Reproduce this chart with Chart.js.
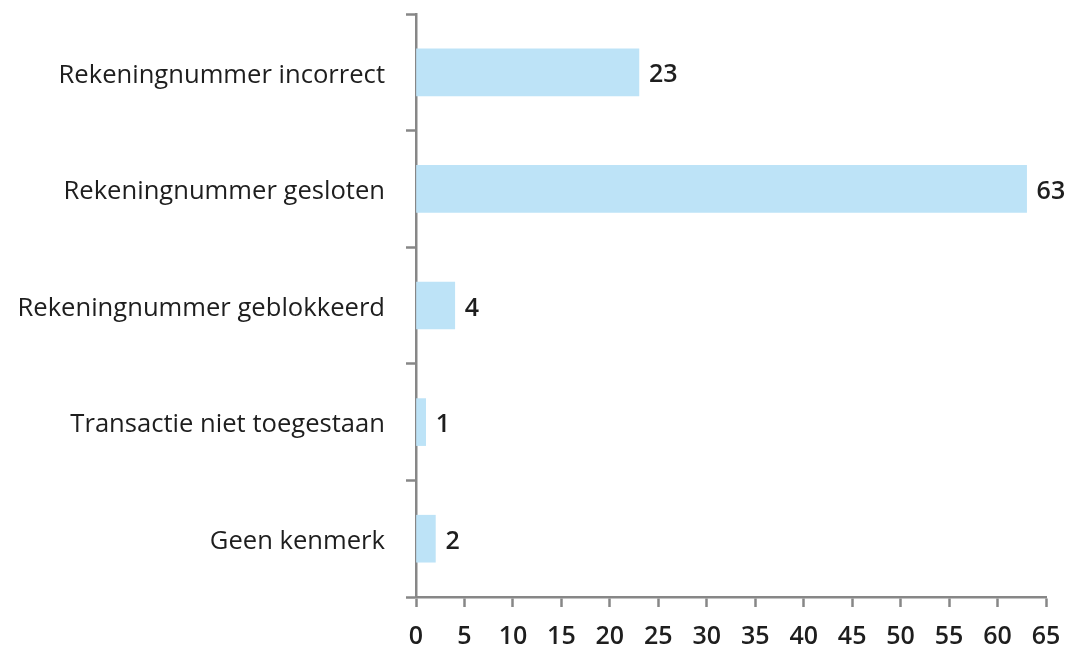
<!DOCTYPE html>
<html>
<head>
<meta charset="utf-8">
<script src="https://cdn.jsdelivr.net/npm/chart.js@4/dist/chart.umd.min.js"></script>
<style>
html,body{margin:0;padding:0;background:#fff;}
canvas{display:block;}
</style>
</head>
<body>
<canvas id="c" width="1069" height="646"></canvas>
<script>
const categories = ["Rekeningnummer incorrect","Rekeningnummer gesloten","Rekeningnummer geblokkeerd","Transactie niet toegestaan","Geen kenmerk"];
const values = [23, 63, 4, 1, 2];
const xTickMin = 0, xTickMax = 65, xTickStep = 5;

const FONT = "'Open Sans', 'Noto Sans', sans-serif";
const AXIS = "#878787";

const valueLabels = {
  id: 'valueLabels',
  afterDatasetsDraw(chart) {
    const ctx = chart.ctx;
    const meta = chart.getDatasetMeta(0);
    ctx.save();
    ctx.font = "600 25px " + FONT;
    ctx.fillStyle = "#1e1e1e";
    ctx.textBaseline = "middle";
    ctx.textAlign = "left";
    meta.data.forEach((bar, i) => {
      ctx.fillText(String(values[i]), bar.x + 10, bar.y + 3);
    });
    ctx.restore();
  }
};

new Chart(document.getElementById('c'), {
  type: 'bar',
  data: {
    labels: categories,
    datasets: [{
      data: values,
      backgroundColor: '#BDE3F7',
      borderWidth: 0,
      barThickness: 47
    }]
  },
  options: {
    indexAxis: 'y',
    responsive: false,
    animation: false,
    layout: { padding: { top: 14, right: 23, left: 0, bottom: 0 } },
    plugins: { legend: { display: false }, tooltip: { enabled: false } },
    scales: {
      x: {
        min: xTickMin, max: xTickMax,
        ticks: { stepSize: xTickStep, color: '#1e1e1e', font: { family: FONT, size: 25, weight: '600' }, padding: 15, maxRotation: 0 },
        grid: { drawOnChartArea: false, drawTicks: true, tickLength: 10, tickColor: AXIS, tickWidth: 2.5 },
        border: { color: AXIS, width: 2.5 },
        afterFit(s) { s.height = 49; s.paddingLeft = 0; s.paddingRight = 0; }
      },
      y: {
        ticks: { color: '#1e1e1e', font: { family: FONT, size: 25.6 }, padding: 21, labelOffset: 3 },
        grid: { offset: true, drawOnChartArea: false, drawTicks: true, tickLength: 10, tickColor: AXIS, tickWidth: 2.5 },
        border: { color: AXIS, width: 2.5 },
        afterFit(s) { s.width = 416; s.paddingTop = 0; s.paddingBottom = 0; }
      }
    }
  },
  plugins: [valueLabels]
});
</script>
</body>
</html>
